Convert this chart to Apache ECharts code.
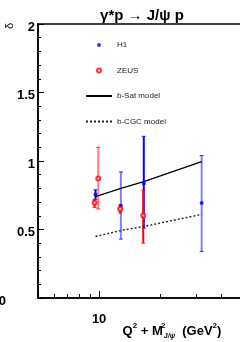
<!DOCTYPE html>
<html><head><meta charset="utf-8">
<script src="https://cdn.jsdelivr.net/npm/echarts@6/dist/echarts.min.js"></script>
<style>html,body{margin:0;padding:0;background:#fff}#c{width:240px;height:342px}</style>
</head><body><div id="c"></div>
<script>
// ---- data ----
const h1X = [9.6, 12.8, 16.6, 32];
const h1Y = [0.755, 0.673, 0.835, 0.693];
const h1Lo = [0.72, 0.43, 0.51, 0.34];
const h1Hi = [0.79, 0.92, 1.18, 1.04];
const zeusX = [9.5, 9.9, 12.7, 16.5];
const zeusY = [0.695, 0.873, 0.65, 0.602];
const zeusLo = [0.66, 0.65, 0.62, 0.40];
const zeusHi = [0.72, 1.10, 0.68, 0.786];
const modelX = [9.6, 12.8, 16.6, 32];
const bSat = [0.74, 0.80, 0.85, 0.995];
const bCGC = [0.449, 0.493, 0.522, 0.61];
const xTickLabels = [10];
const xMinorTicks = [6, 7, 8, 9, 20, 30, 40];
const xRange = [5, 50];
const yRange = [0, 2];
const yStep = 0.5;

// ---- styles ----
const FONT = 'Liberation Sans, Arial, Helvetica, sans-serif';
const h1Faded = [false, true, false, true];
const zeusFaded = [false, true, false, false];

function errBars(color, faded) {
  return function (params, api) {
    const i = params.dataIndex;
    const x = api.value(0), lo = api.value(1), hi = api.value(2);
    const p1 = api.coord([x, lo]), p2 = api.coord([x, hi]);
    const op = faded[i] ? 0.5 : 1;
    return {
      type: 'group', children: [
        { type: 'line', shape: { x1: p1[0], y1: p1[1], x2: p2[0], y2: p2[1] }, style: { stroke: color, lineWidth: 2, opacity: op } },
        { type: 'line', shape: { x1: p1[0] - 2, y1: p1[1], x2: p1[0] + 2, y2: p1[1] }, style: { stroke: color, lineWidth: 1, opacity: 0.8 } },
        { type: 'line', shape: { x1: p2[0] - 2, y1: p2[1], x2: p2[0] + 2, y2: p2[1] }, style: { stroke: color, lineWidth: 1, opacity: 0.8 } }
      ]
    };
  };
}

const chart = echarts.init(document.getElementById('c'), null, { renderer: 'canvas' });
chart.setOption({
  animation: false,
  backgroundColor: '#fff',
  textStyle: { fontFamily: FONT },
  title: {
    text: 'γ*p → J/ψ p', left: 137, top: 3, textAlign: 'center',
    textStyle: { fontFamily: FONT, fontSize: 15, fontWeight: 'bold', color: '#000' }
  },
  graphic: [{
    type: 'text', x: 10, y: 26, rotation: Math.PI / 2,
    style: { text: 'δ', fontFamily: FONT, fontSize: 11, fill: '#000', align: 'center', verticalAlign: 'middle' }
  }],
  legend: {
    orient: 'vertical', left: 85, top: 40, padding: 0, itemWidth: 26, itemHeight: 4, itemGap: 15.5,
    textStyle: { fontFamily: FONT, fontSize: 8, color: '#222', lineHeight: 10 },
    data: [
      'H1', 'ZEUS',
      { name: 'b-Sat model', itemStyle: { opacity: 0 } },
      { name: 'b-CGC model', itemStyle: { opacity: 0 } }
    ]
  },
  grid: {
    left: 38, right: -1, top: 24, bottom: 44, outerBoundsMode: 'none', containLabel: false,
    show: true, borderColor: '#000', borderWidth: 1.5, backgroundColor: 'transparent'
  },
  xAxis: [{
    type: 'log', logBase: 10, min: xRange[0], max: xRange[1],
    axisLine: { show: true, lineStyle: { color: '#000', width: 1.5 } },
    axisTick: { show: true, inside: true, length: 7, lineStyle: { color: '#000' } },
    splitLine: { show: false },
    axisLabel: {
      margin: 15, fontFamily: FONT, fontSize: 13, fontWeight: 'bold', color: '#000',
      formatter: v => xTickLabels.some(t => Math.abs(t - v) < 1e-6 * t) ? String(Math.round(v)) : ''
    },
    name: '{b|Q}{sp|2}{b| + M}{spz|2}{sb|J/ψ}{b|  (GeV}{sp|2}{b|)}',
    nameLocation: 'middle', nameGap: 24, nameMoveOverlap: false,
    nameTextStyle: {
      padding: [0, 0, 0, 65],
      rich: {
        b: { fontFamily: FONT, fontSize: 13, fontWeight: 'bold', color: '#000', lineHeight: 18 },
        sp: { fontFamily: FONT, fontSize: 8, fontWeight: 'bold', color: '#000', lineHeight: 8, verticalAlign: 'top' },
        spz: { fontFamily: FONT, fontSize: 8, fontWeight: 'bold', color: '#000', lineHeight: 8, verticalAlign: 'top', width: 1 },
        sb: { fontFamily: FONT, fontSize: 7, fontWeight: 'bold', fontStyle: 'italic', color: '#000', lineHeight: 7, verticalAlign: 'bottom' }
      }
    }
  }, {
    type: 'value', gridIndex: 0, position: 'bottom',
    min: Math.log10(xRange[0]), max: Math.log10(xRange[1]),
    axisLine: { show: false }, splitLine: { show: false },
    axisLabel: { show: false },
    axisTick: { show: true, inside: true, length: 4, customValues: xMinorTicks.map(v => Math.log10(v)), lineStyle: { color: '#000' } }
  }],
  yAxis: {
    type: 'value', min: yRange[0], max: yRange[1], interval: yStep,
    axisLine: { show: true, lineStyle: { color: '#000', width: 1.5 } },
    axisTick: { show: true, inside: true, length: 6, lineStyle: { color: '#000' } },
    minorTick: { show: true, splitNumber: 5, length: 3, lineStyle: { color: '#000' } },
    splitLine: { show: false },
    axisLabel: {
      margin: 3, fontFamily: FONT, fontSize: 13, fontWeight: 'bold', color: '#000',
      padding: [6, 0, 0, 0],
      formatter: v => v === 0 ? '{z|0}' : String(v),
      rich: { z: { fontFamily: FONT, fontSize: 13, fontWeight: 'bold', color: '#000', padding: [0, 29, 0, 0] } }
    }
  },
  series: [
    {
      name: 'H1 errors', type: 'custom', z: 2, xAxisIndex: 0,
      renderItem: errBars('#0000ff', h1Faded),
      encode: { x: 0, y: [1, 2] },
      data: h1X.map((x, i) => [x, h1Lo[i], h1Hi[i]])
    },
    {
      name: 'ZEUS errors', type: 'custom', z: 3, xAxisIndex: 0,
      renderItem: errBars('#ff0000', zeusFaded),
      encode: { x: 0, y: [1, 2] },
      data: zeusX.map((x, i) => [x, zeusLo[i], zeusHi[i]])
    },
    {
      name: 'b-Sat model', type: 'line', z: 4, xAxisIndex: 0, symbol: 'none',
      lineStyle: { color: '#000', width: 1.4 }, itemStyle: { color: '#000' },
      data: modelX.map((x, i) => [x, bSat[i]])
    },
    {
      name: 'b-CGC model', type: 'line', z: 4, xAxisIndex: 0, symbol: 'none',
      lineStyle: { color: '#222', width: 1.4, type: [2, 2] }, itemStyle: { color: '#222' },
      data: modelX.map((x, i) => [x, bCGC[i]])
    },
    {
      name: 'H1', type: 'scatter', z: 5, xAxisIndex: 0, symbol: 'circle', symbolSize: 4,
      itemStyle: { color: '#0000ff' },
      data: h1X.map((x, i) => [x, h1Y[i]])
    },
    {
      name: 'ZEUS', type: 'scatter', z: 5, xAxisIndex: 0, symbol: 'emptyCircle', symbolSize: 4,
      itemStyle: { color: '#ff0000', borderColor: '#ff0000', borderWidth: 1 },
      data: zeusX.map((x, i) => [x, zeusY[i]])
    }
  ]
});
</script>
</body></html>
